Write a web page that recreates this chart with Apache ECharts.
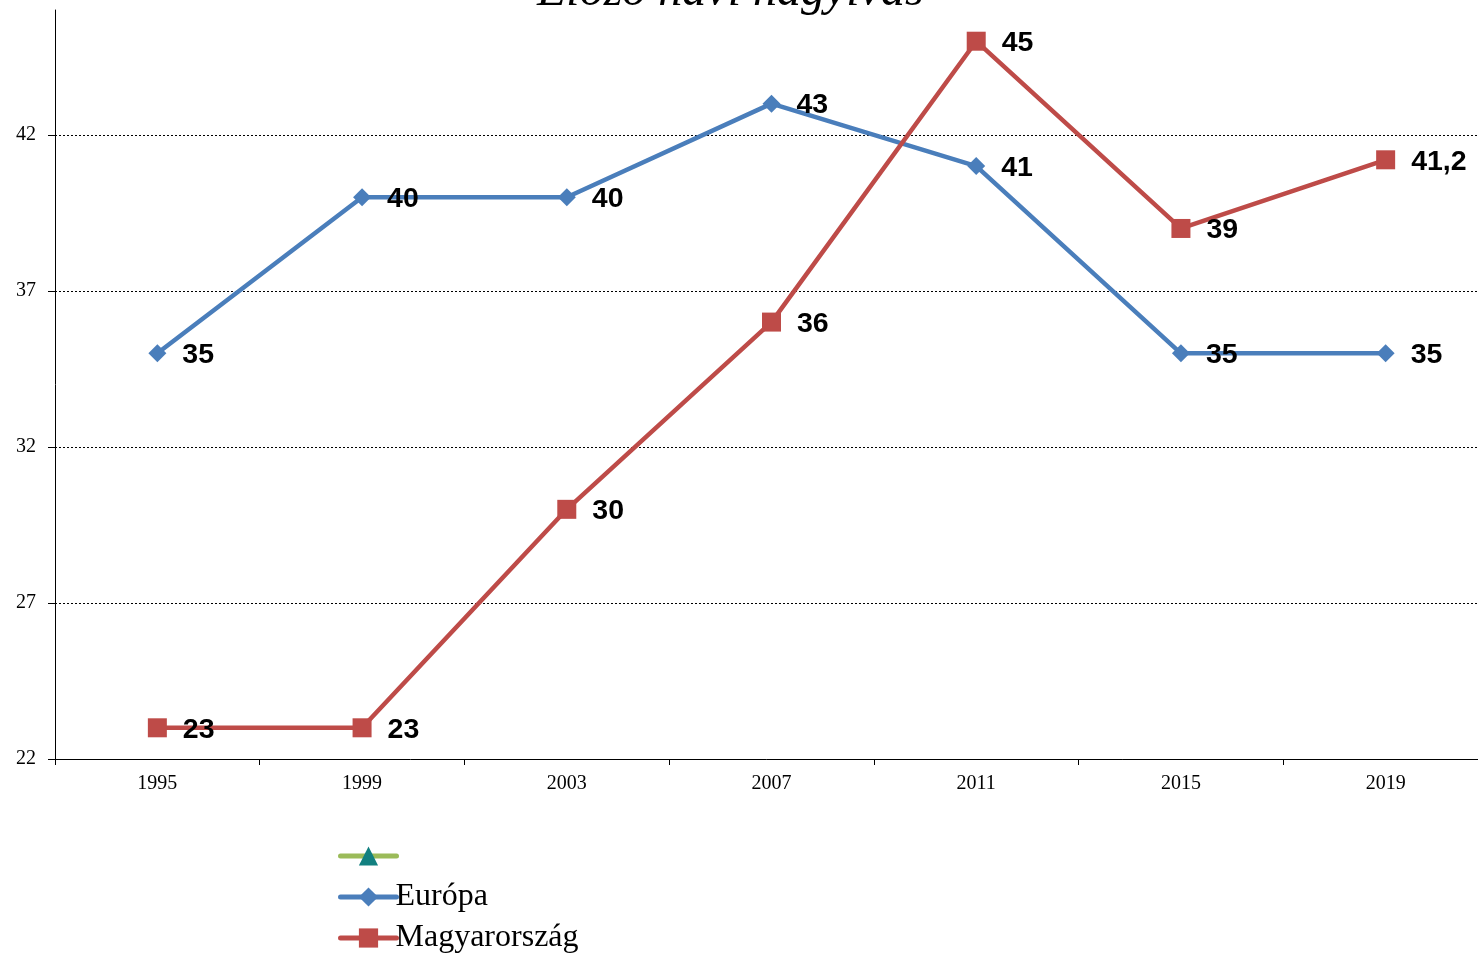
<!DOCTYPE html>
<html><head><meta charset="utf-8">
<script src="https://cdn.jsdelivr.net/npm/echarts@6/dist/echarts.min.js"></script>
<style>html,body{margin:0;padding:0;background:#fff}#c{width:1478px;height:956px}</style>
</head><body><div id="c"></div>
<script>
const titleText = 'Előző havi nagyivás';
const years = ['1995','1999','2003','2007','2011','2015','2019'];
const europa = [35, 40, 40, 43, 41, 35, 35];
const magyar = [23, 23, 30, 36, 45, 39, 41.2];
const emptySeries = ['-','-','-','-','-','-','-'];
const yTicks = {min: 22, max: 46, interval: 5};

const chart = echarts.init(document.getElementById('c'));
const labelStyle = {
  show: true, position: 'right', distance: 16, offset: [0, 2],
  fontFamily: 'Liberation Sans, Arial, sans-serif', fontWeight: 'bold', fontSize: 28.5, color: '#000',
  formatter: p => String(p.value).replace('.', ',')
};
chart.setOption({
  animation: false,
  title: {
    text: titleText, left: 537, top: -32, padding: 0,
    textStyle: {fontFamily: 'Liberation Serif, Times New Roman, serif', fontStyle: 'italic', fontWeight: 'normal', fontSize: 48, color: '#000'}
  },
  grid: {left: 55, width: 1433, top: 10, bottom: 197, outerBoundsMode: 'none', containLabel: false},
  legend: {
    orient: 'vertical', left: 338, top: 840, padding: 0, itemGap: 9, itemWidth: 56, itemHeight: 24,
    lineStyle: {width: 5, cap: 'round'},
    textStyle: {fontFamily: 'Liberation Serif, Times New Roman, serif', fontSize: 32, color: '#000', padding: [0,0,0,-6]},
    data: [' ', 'Európa', 'Magyarország']
  },
  xAxis: {
    type: 'category', data: years, boundaryGap: true,
    axisLine: {lineStyle: {color: '#000', width: 1}},
    axisTick: {show: true, interval: 0, length: 6, inside: false, alignWithLabel: false, lineStyle: {color: '#000'}},
    axisLabel: {fontFamily: 'Liberation Serif, Times New Roman, serif', fontSize: 20, color: '#000', margin: 15},
    splitLine: {show: false}
  },
  yAxis: {
    type: 'value', min: yTicks.min, max: yTicks.max, interval: yTicks.interval,
    axisLine: {show: true, lineStyle: {color: '#000', width: 1}},
    axisTick: {show: true, length: 7, lineStyle: {color: '#000'}},
    axisLabel: {fontFamily: 'Liberation Serif, Times New Roman, serif', fontSize: 20, color: '#000', margin: 19, showMaxLabel: false},
    splitLine: {show: true, showMinLine: false, showMaxLine: false, lineStyle: {color: '#000', type: [2, 2], width: 1}}
  },
  series: [
    {name: ' ', type: 'line', data: emptySeries, symbol: 'triangle', symbolSize: 12,
     lineStyle: {color: '#9BBB59', width: 5}, itemStyle: {color: '#128080'}},
    {name: 'Európa', type: 'line', data: europa, symbol: 'diamond', symbolSize: 18,
     lineStyle: {color: '#4A7EBB', width: 4.5}, itemStyle: {color: '#4A7EBB'}, label: labelStyle, z: 3},
    {name: 'Magyarország', type: 'line', data: magyar, symbol: 'rect', symbolSize: 19,
     lineStyle: {color: '#BE4B48', width: 4.5}, itemStyle: {color: '#BE4B48'}, label: labelStyle, z: 4}
  ]
});
</script></body></html>
